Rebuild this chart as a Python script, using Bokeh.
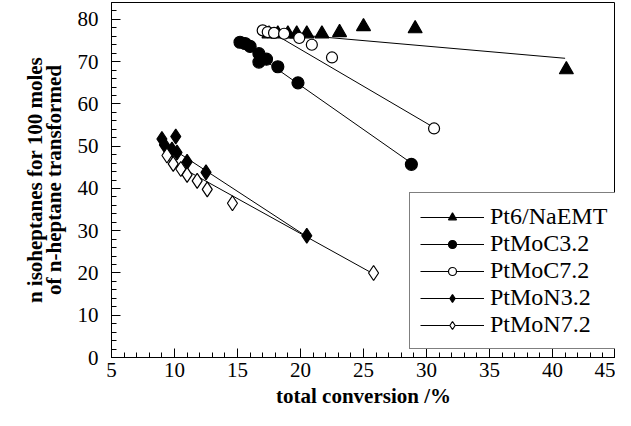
from bokeh.plotting import figure
from bokeh.models import Range1d, LinearAxis, SingleIntervalTicker, FixedTicker, Legend, LegendItem
from bokeh.embed import file_html
from bokeh.resources import INLINE

# ---- data ----
pt6_x = [17.5, 18.2, 19.0, 19.7, 20.5, 21.7, 23.1, 25.0, 29.1, 41.1]
pt6_y = [76.6, 76.6, 76.6, 76.6, 76.6, 76.6, 76.9, 78.3, 77.8, 68.1]
pt6_fit_x = [17.3, 41.0]
pt6_fit_y = [77.0, 70.8]

moc32_x = [15.2, 15.6, 16.0, 16.7, 16.7, 17.3, 18.2, 19.8, 28.8]
moc32_y = [74.6, 74.3, 73.6, 71.9, 69.9, 70.6, 68.8, 65.0, 45.7]
moc32_fit_x = [15.2, 28.8]
moc32_fit_y = [74.4, 46.0]

moc72_x = [17.0, 17.4, 17.9, 18.7, 19.9, 20.9, 22.5, 30.6]
moc72_y = [77.4, 77.0, 76.8, 76.6, 75.6, 74.0, 71.0, 54.2]
moc72_fit_x = [17.2, 30.6]
moc72_fit_y = [77.8, 54.4]

mon32_x = [9.0, 9.2, 9.8, 10.1, 10.2, 11.0, 12.5, 20.5]
mon32_y = [51.7, 50.3, 49.2, 52.3, 48.5, 46.3, 43.8, 28.8]
mon32_fit_x = [9.0, 20.5]
mon32_fit_y = [51.0, 28.6]

mon72_x = [9.4, 9.9, 10.5, 11.0, 11.8, 12.6, 14.6, 25.8]
mon72_y = [47.8, 45.8, 44.6, 43.2, 41.8, 39.8, 36.5, 20.0]
mon72_fit_x = [9.3, 25.9]
mon72_fit_y = [47.0, 19.6]

x_ticks = [5, 10, 15, 20, 25, 30, 35, 40, 45]
y_ticks = [0, 10, 20, 30, 40, 50, 60, 70, 80]

SERIF = "Liberation Serif"

p = figure(width=615, height=410,
           x_range=Range1d(5, 45), y_range=Range1d(0, 84),
           output_backend="svg", toolbar_location=None,
           min_border_left=111, min_border_top=2, min_border_right=0,
           min_border_bottom=48, x_axis_location=None, y_axis_location=None)
p.xgrid.visible = False
p.ygrid.visible = False
p.outline_line_color = "black"
p.outline_line_width = 1
p.background_fill_color = "white"
p.border_fill_color = "white"


def style_axis(ax):
    ax.axis_line_color = "black"
    ax.major_tick_in = 9
    ax.major_tick_out = 0
    ax.minor_tick_in = 5
    ax.minor_tick_out = 0
    ax.major_tick_line_color = "black"
    ax.minor_tick_line_color = "black"
    ax.major_label_text_font = SERIF
    ax.major_label_text_font_size = "21px"
    ax.major_label_text_color = "black"
    ax.axis_label_text_font = SERIF
    ax.axis_label_text_font_size = "21px"
    ax.axis_label_text_font_style = "bold"
    ax.axis_label_text_color = "black"


xb = LinearAxis(ticker=SingleIntervalTicker(interval=5, num_minor_ticks=5),
                axis_label="total conversion /%")
style_axis(xb)
xb.major_label_standoff = 5
xb.axis_label_standoff = 4
p.add_layout(xb, "below")

yl = LinearAxis(ticker=SingleIntervalTicker(interval=10, num_minor_ticks=5),
                axis_label="of n-heptane transformed")
style_axis(yl)
yl.major_label_standoff = 13
yl.axis_label_standoff = 9
p.add_layout(yl, "left")

yl2 = LinearAxis(ticker=FixedTicker(ticks=[]), axis_label="n isoheptanes for 100 moles")
style_axis(yl2)
yl2.axis_line_color = None
yl2.major_tick_line_color = None
yl2.minor_tick_line_color = None
yl2.axis_label_standoff = -8
p.add_layout(yl2, "left")

items = []
series = [
    ("Pt6/NaEMT", pt6_x, pt6_y, pt6_fit_x, pt6_fit_y, "triangle", "black", 14),
    ("PtMoC3.2", moc32_x, moc32_y, moc32_fit_x, moc32_fit_y, "circle", "black", 12),
    ("PtMoC7.2", moc72_x, moc72_y, moc72_fit_x, moc72_fit_y, "circle", "white", 11),
    ("PtMoN3.2", mon32_x, mon32_y, mon32_fit_x, mon32_fit_y, "diamond", "black", 15),
    ("PtMoN7.2", mon72_x, mon72_y, mon72_fit_x, mon72_fit_y, "diamond", "white", 15),
]
for name, xs, ys, fx, fy, marker, fill, size in series:
    ln = p.line(fx, fy, line_color="black", line_width=1)
    sc = p.scatter(xs, ys, marker=marker, size=size, fill_color=fill,
                   line_color="black", line_width=1.2)
    items.append(LegendItem(label=name, renderers=[ln, sc]))

legend = Legend(items=items, location=(298, 8))
legend.label_text_font = SERIF
legend.label_text_font_size = "24px"
legend.label_text_color = "black"
legend.glyph_width = 64
legend.glyph_height = 20
legend.label_height = 20
legend.label_standoff = 6
legend.spacing = 0
legend.padding = 10
legend.margin = 0
legend.border_line_color = "black"
legend.border_line_width = 1
legend.background_fill_alpha = 1
p.add_layout(legend, "center")

open("out.html", "w").write(file_html(p, INLINE))
